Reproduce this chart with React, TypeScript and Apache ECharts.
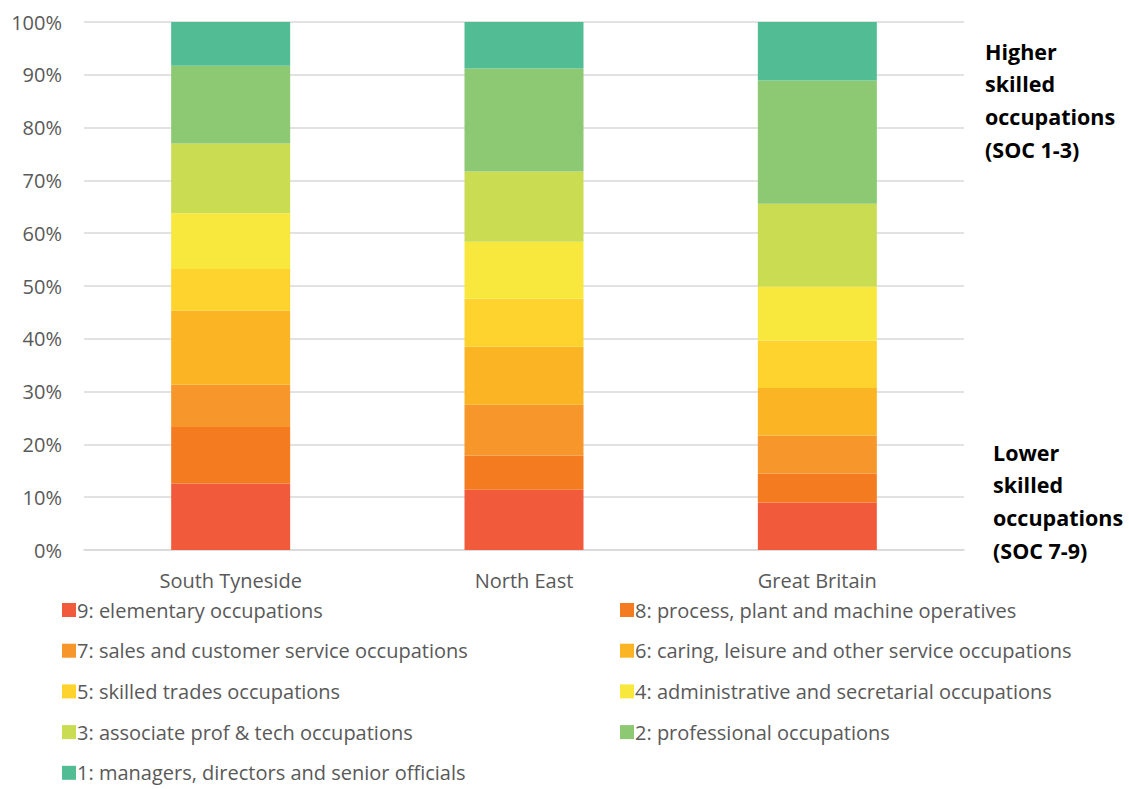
import React, { useEffect, useRef } from "react";
import * as echarts from "echarts";

const categories = ["South Tyneside", "North East", "Great Britain"];
const seriesNames = [
  "9: elementary occupations",
  "8: process, plant and machine operatives",
  "7: sales and customer service occupations",
  "6: caring, leisure and other service occupations",
  "5: skilled trades occupations",
  "4: administrative and secretarial occupations",
  "3: associate prof & tech occupations",
  "2: professional occupations",
  "1: managers, directors and senior officials",
];
const soc9 = [12.6, 11.4, 9.0];
const soc8 = [10.7, 6.5, 5.5];
const soc7 = [8.0, 9.6, 7.2];
const soc6 = [14.0, 11.0, 9.0];
const soc5 = [7.9, 9.1, 9.0];
const soc4 = [10.6, 10.8, 10.2];
const soc3 = [13.2, 13.3, 15.7];
const soc2 = [14.7, 19.5, 23.3];
const soc1 = [8.3, 8.8, 11.1];
const seriesValues = [soc9, soc8, soc7, soc6, soc5, soc4, soc3, soc2, soc1];
const colors = ["#F15B3B", "#F47B20", "#F7962A", "#FBB424", "#FED32E", "#F8E83E", "#CADC51", "#8DC873", "#52BD94"];

const FONT = "'Open Sans', 'Noto Sans', sans-serif";

export default function App() {
  const ref = useRef<HTMLDivElement>(null);
  useEffect(() => {
    const chart = echarts.init(ref.current!, null, { renderer: "svg" });
    const textStyle = { color: "#595959", fontSize: 20, fontFamily: FONT };
    const legendBase = {
      orient: "vertical",
      top: 594,
      height: 260,
      itemWidth: 14,
      itemHeight: 14,
      itemGap: 18.7,
      icon: "rect",
      textStyle: { color: "#595959", fontSize: 20, lineHeight: 22, fontFamily: FONT, padding: [0, 0, 0, -4] },
    };
    chart.setOption({
      animation: false,
      textStyle: { fontFamily: FONT },
      grid: { left: 84, right: 165, top: 22, bottom: 239 },
      xAxis: {
        type: "category",
        data: categories,
        axisLine: { show: true, lineStyle: { color: "#d9d9d9", width: 1.5 } },
        axisTick: { show: false },
        axisLabel: { ...textStyle, margin: 20 },
      },
      yAxis: {
        type: "value",
        min: 0,
        max: 100,
        interval: 10,
        axisLabel: { ...textStyle, formatter: "{value}%", margin: 22 },
        splitLine: { lineStyle: { color: "#d9d9d9", width: 1.5 } },
        axisLine: { show: false },
        axisTick: { show: false },
      },
      legend: [
        {
          ...legendBase,
          left: 57,
          data: [seriesNames[0], seriesNames[2], seriesNames[4], seriesNames[6], seriesNames[8]],
        },
        {
          ...legendBase,
          left: 615,
          data: [seriesNames[1], seriesNames[3], seriesNames[5], seriesNames[7]],
        },
      ],
      series: seriesNames.map((name, i) => ({
        name,
        type: "bar",
        stack: "total",
        barWidth: 119,
        itemStyle: { color: colors[i] },
        data: seriesValues[i],
      })),
      graphic: [
        {
          type: "text",
          left: 985,
          top: 35,
          style: {
            text: "Higher\nskilled\noccupations\n(SOC 1-3)",
            fontSize: 21.5,
            fontWeight: "bold",
            fontFamily: FONT,
            fill: "#000",
            lineHeight: 32.6,
          },
        },
        {
          type: "text",
          left: 993,
          top: 436,
          style: {
            text: "Lower\nskilled\noccupations\n(SOC 7-9)",
            fontSize: 21.5,
            fontWeight: "bold",
            fontFamily: FONT,
            fill: "#000",
            lineHeight: 32.6,
          },
        },
      ],
    });
    return () => chart.dispose();
  }, []);
  return <div ref={ref} style={{ width: 1129, height: 789, position: "absolute", left: 0, top: 0 }} />;
}
